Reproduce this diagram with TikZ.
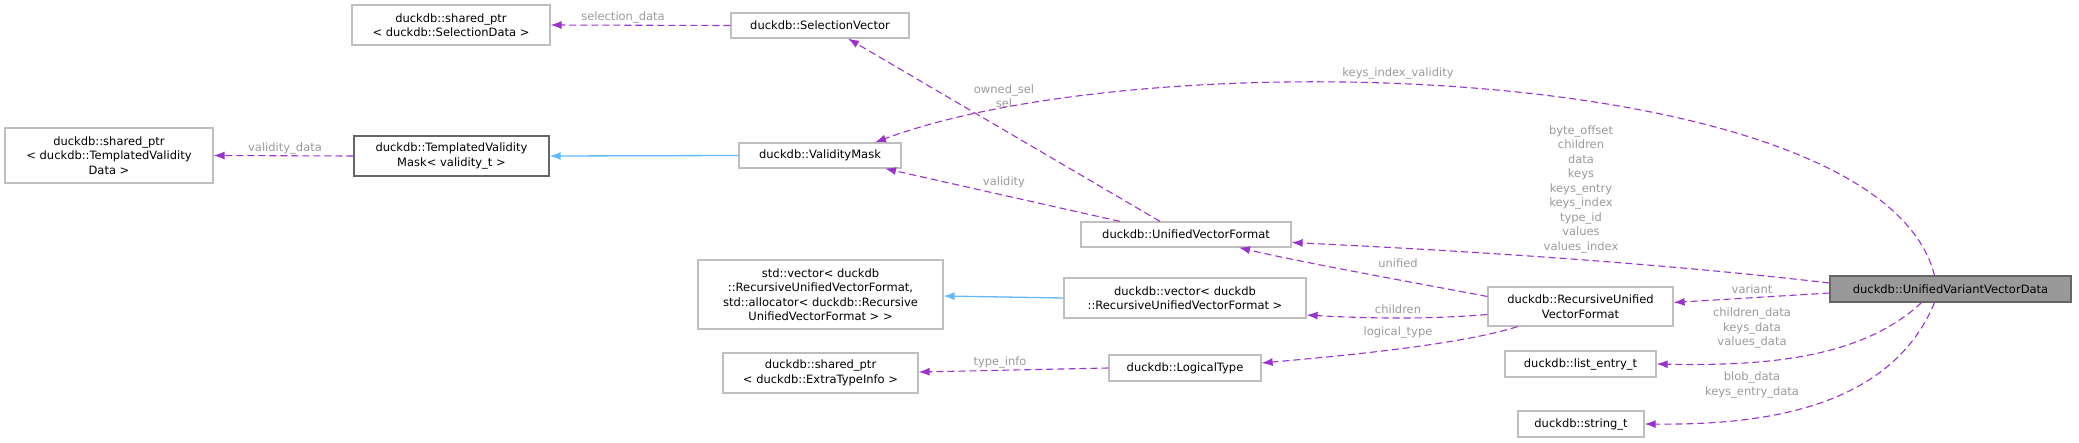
\documentclass[tikz,border=0pt]{standalone}
\usepackage{fontspec}
\setmainfont{DejaVu Sans}
\usetikzlibrary{calc,arrows.meta}
\definecolor{edgepurple}{HTML}{9A32CD}
\definecolor{edgeblue}{HTML}{63B8FF}
\definecolor{labgray}{HTML}{9A9A9A}
\tikzset{
  cls/.style={draw=black!25,line width=1.2pt,inner sep=0pt,align=center,font=\fontsize{11.5}{14.5}\selectfont},
  dark/.style={draw=black!60},
  use/.style={draw=edgepurple,dashed,dash pattern=on 7pt off 4pt,line width=1.1pt,-{Latex[length=11pt,width=8pt]}},
  inh/.style={draw=edgeblue,line width=1.3pt,-{Latex[length=11pt,width=8pt]}},
  lab/.style={text=labgray,align=center,inner sep=0pt,font=\fontsize{11.5}{14.5}\selectfont},
}
\begin{document}
\begin{tikzpicture}[x=1pt,y=-1pt]
  \useasboundingbox (0,0) rectangle (2079,442);
  % classes
  \node[cls,minimum width=198pt,minimum height=40pt] (spsel) at (451,25) {duckdb::shared\_ptr\\< duckdb::SelectionData >};
  \node[cls,minimum width=178pt,minimum height=25pt] (selvec) at (820,25.5) {duckdb::SelectionVector};
  \node[cls,minimum width=208pt,minimum height=55pt] (sptvd) at (109,155.5) {duckdb::shared\_ptr\\< duckdb::TemplatedValidity\\Data >};
  \node[cls,dark,minimum width=195pt,minimum height=40pt] (tvmask) at (451.5,156) {duckdb::TemplatedValidity\\Mask< validity\_t >};
  \node[cls,minimum width=162pt,minimum height=25pt] (valmask) at (820,155.5) {duckdb::ValidityMask};
  \node[cls,minimum width=210pt,minimum height=25pt] (uvf) at (1186,234.5) {duckdb::UnifiedVectorFormat};
  \node[cls,minimum width=245pt,minimum height=69pt] (stdvec) at (820.5,294.5) {std::vector< duckdb\\::RecursiveUnifiedVectorFormat,\\ std::allocator< duckdb::Recursive\\UnifiedVectorFormat > >};
  \node[cls,minimum width=242pt,minimum height=40pt] (dvec) at (1185,298) {duckdb::vector< duckdb\\::RecursiveUnifiedVectorFormat >};
  \node[cls,minimum width=185pt,minimum height=39pt] (ruvf) at (1580.5,306.5) {duckdb::RecursiveUnified\\VectorFormat};
  \node[cls,dark,fill=black!40,minimum width=241pt,minimum height=26pt] (uvvd) at (1950.5,289) {duckdb::UnifiedVariantVectorData};
  \node[cls,minimum width=195pt,minimum height=40pt] (speti) at (820.5,373) {duckdb::shared\_ptr\\< duckdb::ExtraTypeInfo >};
  \node[cls,minimum width=152pt,minimum height=26pt] (ltype) at (1185,368) {duckdb::LogicalType};
  \node[cls,minimum width=151pt,minimum height=26pt] (lentry) at (1580.5,364) {duckdb::list\_entry\_t};
  \node[cls,minimum width=126pt,minimum height=26pt] (strt) at (1581,424) {duckdb::string\_t};
  % edges
  \draw[use] (selvec.west) -- (spsel.east);
  \draw[use] ($(uvf.north)+(-26,0)$) -- ($(selvec.south)+(28,0)$);
  \draw[use] ($(uvvd.north)+(-16,0)$) .. controls (1880,60) and (1150,40) .. ($(valmask.north)+(55,0)$);
  \draw[inh] (valmask.west) -- (tvmask.east);
  \draw[use] (tvmask.west) -- (sptvd.east);
  \draw[use] ($(uvf.north)+(-66,0)$) -- ($(valmask.south)+(65,0)$);
  \draw[use] ($(uvvd.west)+(0,-6)$) .. controls (1650,262) and (1450,250) .. ($(uvf.east)+(0,8)$);
  \draw[use] ($(ruvf.west)+(0,-10)$) .. controls (1400,280) and (1300,262) .. ($(uvf.south)+(53,0)$);
  \draw[inh] (dvec.west) -- ($(stdvec.east)+(0,1.5)$);
  \draw[use] ($(ruvf.west)+(0,8)$) .. controls (1420,320) and (1360,318) .. ($(dvec.east)+(0,17)$);
  \draw[use] ($(ruvf.south)+(-63,0)$) .. controls (1460,345) and (1340,356) .. ($(ltype.east)+(0,-5)$);
  \draw[use] (ltype.west) -- ($(speti.east)+(0,-1)$);
  \draw[use] ($(uvvd.west)+(0,4)$) -- ($(ruvf.east)+(0,-4)$);
  \draw[use] ($(uvvd.south)+(-29,0)$) .. controls (1860,360) and (1760,366) .. (lentry.east);
  \draw[use] ($(uvvd.south)+(-16,0)$) .. controls (1890,410) and (1760,425) .. (strt.east);
  % edge labels
  \node[lab] (lselection) at (623,17) {selection\_data};
  \node[lab] (lowned) at (1004,96) {owned\_sel\\sel};
  \node[lab] (lkeysidx) at (1398,73) {keys\_index\_validity};
  \node[lab] (lvaldata) at (285,148) {validity\_data};
  \node[lab] (lvalidity) at (1004,182) {validity};
  \node[lab] (lfields) at (1581,189) {byte\_offset\\children\\data\\keys\\keys\_entry\\keys\_index\\type\_id\\values\\values\_index};
  \node[lab] (lunified) at (1398,263) {unified};
  \node[lab] (lchildren) at (1398,309) {children};
  \node[lab] (llogical) at (1398,332) {logical\_type};
  \node[lab] (ltypeinfo) at (1000,362) {type\_info};
  \node[lab] (lvariant) at (1752,289) {variant};
  \node[lab] (llist) at (1752,328) {children\_data\\keys\_data\\values\_data};
  \node[lab] (lblob) at (1752,385) {blob\_data\\keys\_entry\_data};
\end{tikzpicture}
\end{document}
